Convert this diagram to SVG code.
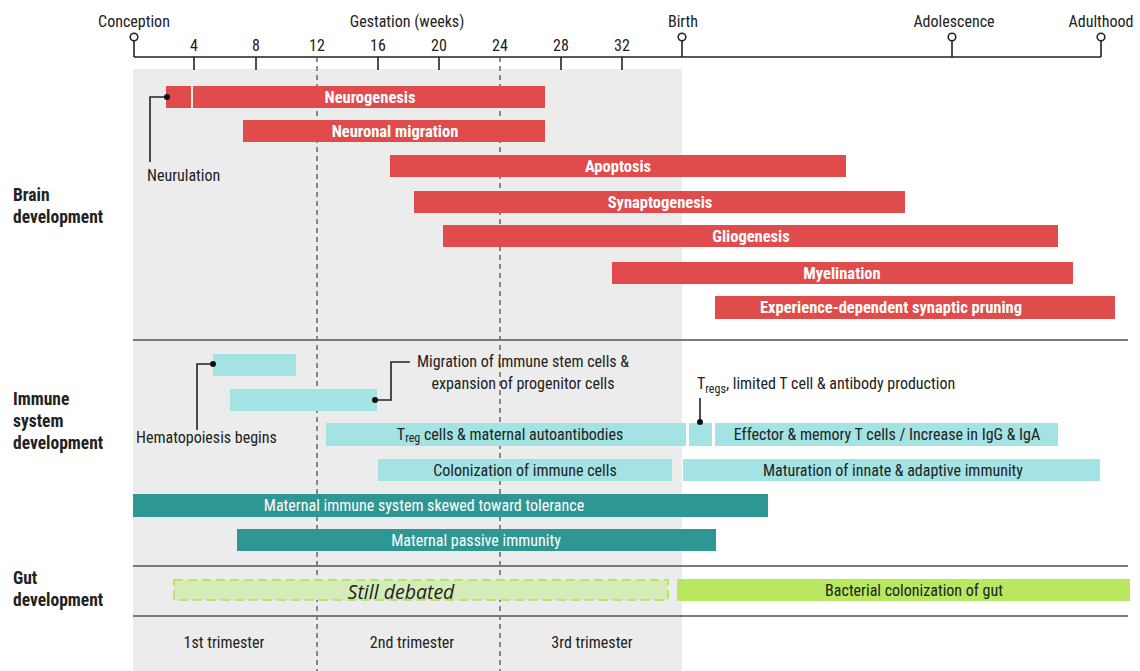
<svg xmlns="http://www.w3.org/2000/svg" width="1140" height="671" viewBox="0 0 1140 671">
<defs>
<style>
text{font-family:"Liberation Sans Narrow","Roboto Condensed","Liberation Sans",sans-serif;fill:#222;font-size:16px}
.ax{font-size:16px}
.sec{font-weight:bold;font-size:17.5px}
.rb{fill:#e04b4b}
.rt{fill:#fff;font-weight:bold;font-size:16.5px;text-anchor:middle;dominant-baseline:central}
.cb{fill:#a3e3e3}
.ct{font-size:16px;text-anchor:middle;dominant-baseline:central}
.tb{fill:#2f9793}
.tt{fill:#fff;font-size:16px;text-anchor:middle;dominant-baseline:central}
.ln{stroke:#222;stroke-width:1.6;fill:none}
.sep{stroke:#7a7a7a;stroke-width:2}
.dash{stroke:#444;stroke-width:1.2;stroke-dasharray:5,4}
.dot{fill:#111}
.mk{fill:#fff;stroke:#222;stroke-width:1.6}
.mid{text-anchor:middle}
</style>
</defs>
<rect x="0" y="0" width="1140" height="671" fill="#fff"/>
<rect x="133" y="69" width="549" height="602" fill="#ececec"/>

<g id="axis">
<line class="ln" x1="134" y1="57" x2="1101" y2="57"/>
<line class="ln" x1="134" y1="41" x2="134" y2="57"/>
<line class="ln" x1="682" y1="41" x2="682" y2="57"/>
<line class="ln" x1="952" y1="41" x2="952" y2="57"/>
<line class="ln" x1="1101" y1="41" x2="1101" y2="57"/>
<circle class="mk" cx="134" cy="37" r="3.8"/>
<circle class="mk" cx="682" cy="37" r="3.8"/>
<circle class="mk" cx="952" cy="37" r="3.8"/>
<circle class="mk" cx="1101" cy="37" r="3.8"/>
<line class="ln" x1="194" y1="57" x2="194" y2="70"/>
<line class="ln" x1="256" y1="57" x2="256" y2="70"/>
<line class="ln" x1="378" y1="57" x2="378" y2="70"/>
<line class="ln" x1="439" y1="57" x2="439" y2="70"/>
<line class="ln" x1="561" y1="57" x2="561" y2="70"/>
<line class="ln" x1="622" y1="57" x2="622" y2="70"/>
<text class="ax mid" x="134" y="27">Conception</text>
<text class="ax mid" x="407" y="27">Gestation (weeks)</text>
<text class="ax mid" x="683" y="27">Birth</text>
<text class="ax mid" x="954" y="27">Adolescence</text>
<text class="ax mid" x="1101" y="27">Adulthood</text>
<text class="ax mid" x="194" y="51">4</text>
<text class="ax mid" x="256" y="51">8</text>
<text class="ax mid" x="317" y="51">12</text>
<text class="ax mid" x="378" y="51">16</text>
<text class="ax mid" x="439" y="51">20</text>
<text class="ax mid" x="500" y="51">24</text>
<text class="ax mid" x="561" y="51">28</text>
<text class="ax mid" x="622" y="51">32</text>
</g>

<g id="trimester-lines">
<line class="dash" x1="317" y1="57" x2="317" y2="671"/>
<line class="dash" x1="500" y1="57" x2="500" y2="671"/>
</g>

<g id="separators">
<line class="sep" x1="133" y1="340" x2="1128" y2="340"/>
<line class="sep" x1="133" y1="566" x2="1128" y2="566"/>
<line class="sep" x1="133" y1="616" x2="1128" y2="616"/>
</g>

<g id="section-labels">
<text class="sec" x="13" y="201">Brain</text>
<text class="sec" x="13" y="223">development</text>
<text class="sec" x="13" y="405">Immune</text>
<text class="sec" x="13" y="427">system</text>
<text class="sec" x="13" y="449">development</text>
<text class="sec" x="13" y="584">Gut</text>
<text class="sec" x="13" y="606">development</text>
</g>

<g id="neurogenesis">
<rect class="rb" x="166" y="86" width="25" height="22"/>
<rect class="rb" x="193" y="86" width="352" height="22"/>
<text class="rt" x="370" y="97">Neurogenesis</text>
</g>
<g id="neuronal-migration">
<rect class="rb" x="243" y="120" width="302" height="22"/>
<text class="rt" x="395" y="131">Neuronal migration</text>
</g>
<g id="apoptosis">
<rect class="rb" x="390" y="155" width="456" height="22"/>
<text class="rt" x="618" y="166">Apoptosis</text>
</g>
<g id="synaptogenesis">
<rect class="rb" x="414" y="191" width="491" height="22"/>
<text class="rt" x="660" y="202">Synaptogenesis</text>
</g>
<g id="gliogenesis">
<rect class="rb" x="443" y="225" width="615" height="22"/>
<text class="rt" x="751" y="236">Gliogenesis</text>
</g>
<g id="myelination">
<rect class="rb" x="612" y="262" width="461" height="22"/>
<text class="rt" x="842" y="273">Myelination</text>
</g>
<g id="pruning">
<rect class="rb" x="715" y="296" width="400" height="23"/>
<text class="rt" x="891" y="307">Experience-dependent synaptic pruning</text>
</g>

<g id="hematopoiesis">
<rect class="cb" x="213" y="354" width="83" height="22"/>
</g>
<g id="migration-immune">
<rect class="cb" x="230" y="389" width="147" height="22"/>
</g>
<g id="treg-maternal">
<rect class="cb" x="326" y="423" width="360" height="23"/>
<text class="ct" x="510" y="434">T<tspan font-size="12" dy="4">reg</tspan><tspan dy="-4"> cells &amp; maternal autoantibodies</tspan></text>
</g>
<g id="tregs-small">
<rect class="cb" x="689" y="423" width="23" height="23"/>
</g>
<g id="effector">
<rect class="cb" x="715" y="423" width="343" height="23"/>
<text class="ct" x="887" y="434">Effector &amp; memory T cells / Increase in IgG &amp; IgA</text>
</g>
<g id="colonization-immune">
<rect class="cb" x="378" y="459" width="294" height="22"/>
<text class="ct" x="525" y="470">Colonization of immune cells</text>
</g>
<g id="maturation">
<rect class="cb" x="683" y="459" width="417" height="22"/>
<text class="ct" x="893" y="470">Maturation of innate &amp; adaptive immunity</text>
</g>
<g id="maternal-tolerance">
<rect class="tb" x="133" y="494" width="635" height="23"/>
<text class="tt" x="424" y="505">Maternal immune system skewed toward tolerance</text>
</g>
<g id="maternal-passive">
<rect class="tb" x="237" y="529" width="479" height="22"/>
<text class="tt" x="476" y="540">Maternal passive immunity</text>
</g>

<g id="still-debated">
<rect x="174" y="580" width="494" height="20" fill="#d6ecb8" stroke="#b5e86a" stroke-width="2" stroke-dasharray="9,5"/>
<text x="401" y="591" text-anchor="middle" dominant-baseline="central" style="font-family:'Open Sans','Liberation Sans',sans-serif;font-size:19.5px;font-style:italic">Still debated</text>
</g>
<g id="bacterial">
<rect x="677" y="579" width="453" height="22" fill="#b7e85f"/>
<text class="ct" x="914" y="590">Bacterial colonization of gut</text>
</g>

<g id="trimesters">
<text class="mid" x="224" y="648">1st trimester</text>
<text class="mid" x="412" y="648">2nd trimester</text>
<text class="mid" x="592" y="648">3rd trimester</text>
</g>

<g id="connectors">
<polyline class="ln" points="167,97 150,97 150,162"/>
<circle class="dot" cx="167" cy="97" r="3"/>
<polyline class="ln" points="213,364 197,364 197,430"/>
<circle class="dot" cx="213" cy="364" r="3"/>
<polyline class="ln" points="375,400 391,400 391,362 410,362"/>
<circle class="dot" cx="375" cy="400" r="3"/>
<line class="ln" x1="700" y1="398" x2="700" y2="422"/>
<circle class="dot" cx="700" cy="422" r="3"/>
</g>

<g id="callouts">
<text x="147" y="181">Neurulation</text>
<text x="136" y="443">Hematopoiesis begins</text>
<text class="mid" x="523" y="367">Migration of immune stem cells &amp;</text>
<text class="mid" x="523" y="389">expansion of progenitor cells</text>
<text x="697" y="389">T<tspan font-size="12" dy="4">regs</tspan><tspan dy="-4">, limited T cell &amp; antibody production</tspan></text>
</g>
</svg>
